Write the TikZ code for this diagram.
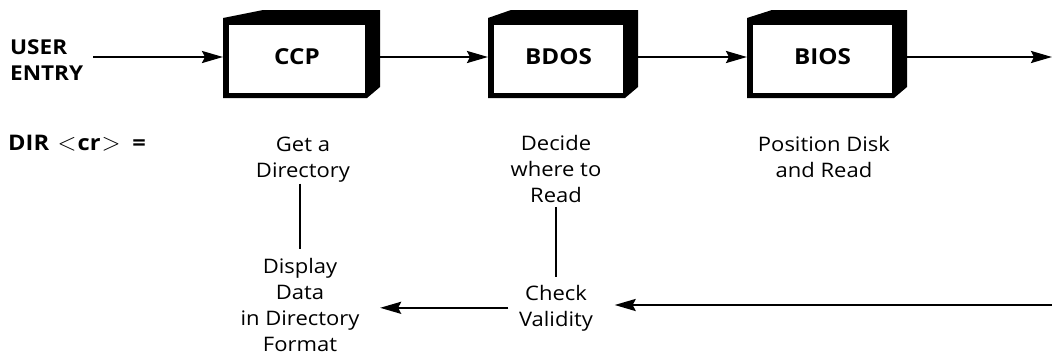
\documentclass[tikz,border=0pt]{standalone}
\usepackage{fontspec}
\setmainfont{Open Sans}[FakeStretch=1.1]
\usetikzlibrary{arrows.meta,calc}
\tikzset{
  boxn/.style={minimum height=82pt, inner sep=0pt, outer sep=0pt},
  boxlbl/.style={inner sep=0pt, font=\bfseries\fontsize{22}{24}\selectfont},
  head/.style={align=left, anchor=base west, inner sep=2pt, font=\bfseries\fontsize{20.5}{25.5}\selectfont},
  txt/.style={align=center, anchor=base, inner sep=1.5pt, font=\fontsize{20}{26}\selectfont},
  arr/.style={line width=2.3pt, -{Stealth[length=21pt,width=12pt,inset=3pt]}},
  ln/.style={line width=2pt},
}
\newcommand\cpmbox[5]{%
  \fill (#2,18) -- ({#2+#4},10) -- (#3,10) -- (#3,87) -- ({#3-13},98) -- (#2,98) -- cycle;
  \fill[white] ({#2+6},25) rectangle ({#3-15},93);
  \node[boxn, minimum width={#3-#2}] (#1) at ({(#2+#3)/2},57) {};
  \node[boxlbl] (#1t) at ({(#2+#3)/2-4.5},57) {#5};
}
\begin{document}
\begin{tikzpicture}[x=1pt,y=-1pt]
\useasboundingbox (0,0) rectangle (1052,354);
\cpmbox{ccp}{223}{380}{40}{CCP}
\cpmbox{bdos}{488}{638}{23}{BDOS}
\cpmbox{bios}{747}{907}{25}{BIOS}
\node[head] (user) at (8,80) {USER\\ENTRY};
\coordinate (out) at (1052,57);
\draw[arr, shorten <=8pt] (user.east |- ccp.west) -- (ccp.west);
\draw[arr] (ccp.east) -- (bdos.west);
\draw[arr] (bdos.east) -- (bios.west);
\draw[arr] (bios.east) -- (out);
\node[head, font=\bfseries\fontsize{21.5}{25}\selectfont] (dir) at (6,150) {DIR\hspace{0.4em}{\mdseries\fontsize{25}{25}\selectfont$<$}\kern1pt cr\kern1pt{\mdseries\fontsize{25}{25}\selectfont$>$}\hspace{0.55em}=};
\node[txt] (geta) at (303,177) {Get a\\Directory};
\node[txt] (disp) at (300,351) {Display\\Data\\in Directory\\Format};
\node[txt] (decide) at (556,202) {Decide\\where to\\Read};
\node[txt] (check) at (556,326) {Check\\Validity};
\node[txt] (pos) at (824,177) {Position Disk\\and Read};
\draw[ln, shorten >=7pt] (disp.north |- geta.south) -- (disp.north);
\draw[ln, shorten <=3pt, shorten >=6pt] (decide.south) -- (check.north);
\draw[arr, shorten <=9pt, shorten >=19pt] (check.west) -- (check.west -| disp.east);
\coordinate (in) at (1052,305);
\draw[arr, shorten >=20pt] (in) -- (in -| check.east);
\end{tikzpicture}
\end{document}
